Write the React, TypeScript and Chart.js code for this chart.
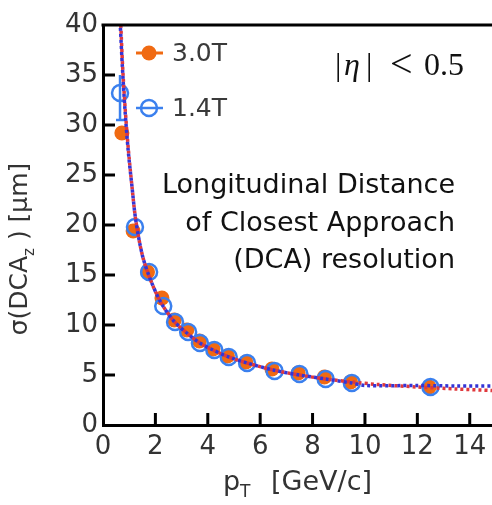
import React, { useEffect, useRef } from "react";
import { Chart, registerables } from "chart.js";
Chart.register(...registerables);

// ---- data ----
const xTickValues = [0, 2, 4, 6, 8, 10, 12, 14];
const yTickValues = [0, 5, 10, 15, 20, 25, 30, 35, 40];

const pT30 = [0.72, 1.15, 1.7, 2.25, 2.72, 3.2, 3.68, 4.2, 4.75, 5.45, 6.45, 7.45, 8.45, 9.45, 12.45];
const sigma30 = [29.2, 19.4, 15.3, 12.7, 10.5, 9.5, 8.4, 7.6, 6.9, 6.3, 5.6, 5.2, 4.8, 4.3, 3.8];

const pT14 = [0.65, 1.22, 1.76, 2.3, 2.75, 3.25, 3.7, 4.25, 4.8, 5.5, 6.55, 7.5, 8.5, 9.5, 12.5];
const sigma14 = [33.2, 19.8, 15.3, 11.9, 10.3, 9.3, 8.2, 7.5, 6.8, 6.2, 5.4, 5.1, 4.6, 4.2, 3.8];
const err14Lo = [30.5, null, null, null, null, null, null, null, null, null, null, null, null, null, null];
const err14Hi = [35.0, null, null, null, null, null, null, null, null, null, null, null, null, null, null];

const fitRedX = [0.68, 0.75, 0.85, 0.97, 1.1, 1.25, 1.5, 1.8, 2.2, 2.7, 3.2, 3.7, 4.2, 4.8, 5.5, 6.5, 7.5, 8.5, 9.5, 10.5, 12, 13.5, 14.85];
const fitRedY = [40, 35.8, 31.5, 27.5, 24, 20.5, 17, 14.6, 12.3, 10.4, 9.2, 8.2, 7.5, 6.8, 6.2, 5.5, 5.0, 4.6, 4.3, 4.05, 3.8, 3.6, 3.45];
const fitBlueX = [0.66, 0.74, 0.84, 0.96, 1.1, 1.25, 1.5, 1.8, 2.2, 2.7, 3.2, 3.7, 4.2, 4.8, 5.5, 6.5, 7.5, 8.5, 9.5, 10, 12, 13.5, 14.85];
const fitBlueY = [40, 35.8, 31.5, 27.5, 24, 20.5, 17, 14.6, 12.3, 10.4, 9.2, 8.2, 7.5, 6.8, 6.2, 5.5, 5.0, 4.6, 4.2, 3.95, 3.95, 3.9, 3.9];

const legendLabels = ["3.0T", "1.4T"];
const annotationLines = ["Longitudinal Distance", "of Closest Approach", "(DCA) resolution"];

const ORANGE = "#f06a12";
const BLUE_MARK = "#3b80ee";
const RED_FIT = "#e0383c";
const BLUE_FIT = "#3434d6";
const FONT = "'DejaVu Sans', sans-serif";

const toPts = (xs: number[], ys: number[]) => xs.map((x, i) => ({ x, y: ys[i] }));

const decorPlugin = {
  id: "decor",
  beforeDatasetsDraw(chart: any) {
    const { ctx } = chart;
    const xs = chart.scales.x;
    const ys = chart.scales.y;
    ctx.save();
    ctx.strokeStyle = BLUE_MARK;
    ctx.lineWidth = 2.5;
    pT14.forEach((x, i) => {
      const lo = err14Lo[i];
      const hi = err14Hi[i];
      if (lo == null || hi == null) return;
      const px = xs.getPixelForValue(x);
      ctx.beginPath();
      ctx.moveTo(px, ys.getPixelForValue(lo));
      ctx.lineTo(px, ys.getPixelForValue(hi));
      ctx.stroke();
      ctx.beginPath();
      ctx.moveTo(px - 4, ys.getPixelForValue(lo));
      ctx.lineTo(px + 4, ys.getPixelForValue(lo));
      ctx.stroke();
    });
    ctx.restore();
  },
  afterDraw(chart: any) {
    const { ctx, chartArea } = chart;
    const xs = chart.scales.x;
    const ys = chart.scales.y;
    ctx.save();
    // top frame line
    ctx.strokeStyle = "#000";
    ctx.lineWidth = 3;
    ctx.beginPath();
    ctx.moveTo(chartArea.left - 1.5, chartArea.top);
    ctx.lineTo(chartArea.right, chartArea.top);
    ctx.stroke();
    // inward ticks
    xTickValues.forEach((v) => {
      if (v === 0) return;
      const px = xs.getPixelForValue(v);
      ctx.beginPath();
      ctx.moveTo(px, chartArea.bottom);
      ctx.lineTo(px, chartArea.bottom - 12);
      ctx.stroke();
    });
    yTickValues.forEach((v) => {
      if (v === 0 || v === 40) return;
      const py = ys.getPixelForValue(v);
      ctx.beginPath();
      ctx.moveTo(chartArea.left, py);
      ctx.lineTo(chartArea.left + 12, py);
      ctx.stroke();
    });

    // legend
    const legendY = [53, 108];
    const mx = 149;
    ctx.strokeStyle = ORANGE;
    ctx.lineWidth = 3;
    ctx.beginPath();
    ctx.moveTo(mx - 13, legendY[0]);
    ctx.lineTo(mx + 14, legendY[0]);
    ctx.stroke();
    ctx.fillStyle = ORANGE;
    ctx.beginPath();
    ctx.arc(mx, legendY[0], 7.5, 0, Math.PI * 2);
    ctx.fill();
    ctx.strokeStyle = BLUE_MARK;
    ctx.lineWidth = 2.5;
    ctx.beginPath();
    ctx.moveTo(mx - 13, legendY[1]);
    ctx.lineTo(mx + 14, legendY[1]);
    ctx.stroke();
    ctx.beginPath();
    ctx.arc(mx, legendY[1], 8, 0, Math.PI * 2);
    ctx.stroke();
    ctx.fillStyle = "#3a3a3a";
    ctx.font = `25px ${FONT}`;
    ctx.textAlign = "left";
    ctx.textBaseline = "middle";
    legendLabels.forEach((t, i) => ctx.fillText(t, 172, legendY[i] + 1));

    // annotation text
    ctx.fillStyle = "#111";
    ctx.font = `27px ${FONT}`;
    ctx.textAlign = "right";
    ctx.textBaseline = "alphabetic";
    const baselines = [193, 231, 268];
    annotationLines.forEach((t, i) => ctx.fillText(t, 455, baselines[i]));

    // |eta| < 0.5
    ctx.textAlign = "left";
    ctx.font = `32px 'Liberation Serif', serif`;
    ctx.fillText("|", 335, 75);
    ctx.fillText("0.5", 424, 75);
    ctx.fillText("|", 366, 75);
    ctx.font = `40px 'Liberation Serif', serif`;
    ctx.fillText("<", 390, 77);
    ctx.font = `italic 32px 'Liberation Serif', serif`;
    ctx.fillText("\u03b7", 344, 75);

    // x title: p_T [GeV/c]
    ctx.fillStyle = "#333";
    const mainF = `27px ${FONT}`;
    const subF = `17px ${FONT}`;
    ctx.font = mainF;
    const wp = ctx.measureText("p").width;
    const wr = ctx.measureText(" [GeV/c]").width;
    ctx.font = subF;
    const wT = ctx.measureText("T").width;
    const gap = 12;
    const total = wp + wT + gap + wr;
    let sx = (chartArea.left + chartArea.right) / 2 - total / 2;
    const by = 490;
    ctx.font = mainF;
    ctx.fillText("p", sx, by);
    sx += wp;
    ctx.font = subF;
    ctx.fillText("T", sx, by + 7);
    sx += wT + gap;
    ctx.font = mainF;
    ctx.fillText(" [GeV/c]", sx, by);

    // y title: σ(DCA_z ) [μm]
    ctx.save();
    ctx.translate(27, 249);
    ctx.rotate(-Math.PI / 2);
    const yMain = `25px ${FONT}`;
    const ySub = `15px ${FONT}`;
    const a = "\u03c3(DCA";
    const b = "z";
    const c = " ) [\u03bcm]";
    ctx.font = yMain;
    const wa = ctx.measureText(a).width;
    const wc = ctx.measureText(c).width;
    ctx.font = ySub;
    const wb = ctx.measureText(b).width;
    const tot = wa + wb + wc;
    let tx = -tot / 2;
    ctx.font = yMain;
    ctx.fillText(a, tx, 0);
    tx += wa;
    ctx.font = ySub;
    ctx.fillText(b, tx, 7);
    tx += wb;
    ctx.font = yMain;
    ctx.fillText(c, tx, 0);
    ctx.restore();

    ctx.restore();
  },
};

export default function App() {
  const ref = useRef<HTMLCanvasElement | null>(null);
  useEffect(() => {
    if (!ref.current) return;
    const chart = new Chart(ref.current, {
      type: "scatter",
      data: {
        datasets: [
          {
            label: "fit 1.4T",
            type: "line",
            data: toPts(fitBlueX, fitBlueY),
            borderColor: BLUE_FIT,
            borderWidth: 3.5,
            borderDash: [3, 3],
            borderDashOffset: 3,
            pointRadius: 0,
            tension: 0.3,
            fill: false,
            order: 1,
          } as any,
          {
            label: "fit 3.0T",
            type: "line",
            data: toPts(fitRedX, fitRedY),
            borderColor: RED_FIT,
            borderWidth: 3.5,
            borderDash: [3, 3],
            pointRadius: 0,
            tension: 0.3,
            fill: false,
            order: 2,
          } as any,
          {
            label: "1.4T",
            data: toPts(pT14, sigma14),
            pointRadius: 8,
            pointBorderWidth: 2.5,
            pointBorderColor: BLUE_MARK,
            pointBackgroundColor: "rgba(0,0,0,0)",
            borderColor: BLUE_MARK,
            backgroundColor: "rgba(0,0,0,0)",
            order: 3,
          },
          {
            label: "3.0T",
            data: toPts(pT30, sigma30),
            pointRadius: 7.5,
            pointBorderWidth: 0,
            pointBackgroundColor: ORANGE,
            backgroundColor: ORANGE,
            borderColor: ORANGE,
            order: 4,
          },
        ],
      },
      options: {
        animation: false,
        responsive: false,
        devicePixelRatio: 1,
        layout: { autoPadding: false, padding: { top: 25, left: 0, right: 0, bottom: 0 } },
        plugins: { legend: { display: false }, tooltip: { enabled: false } },
        scales: {
          x: {
            type: "linear",
            min: 0,
            max: 14.85,
            afterBuildTicks: (s: any) => {
              s.ticks = xTickValues.map((v) => ({ value: v }));
            },
            afterFit: (s: any) => {
              s.height = 80;
              s.paddingLeft = 0;
              s.paddingRight = 0;
            },
            grid: { display: false, drawTicks: false },
            border: { display: true, color: "#000", width: 3 },
            ticks: {
              padding: 7,
              color: "#333",
              font: { family: FONT, size: 26 },
              maxRotation: 0,
              autoSkip: false,
            },
          },
          y: {
            type: "linear",
            min: 0,
            max: 40,
            afterBuildTicks: (s: any) => {
              s.ticks = yTickValues.map((v) => ({ value: v }));
            },
            afterFit: (s: any) => {
              s.width = 103;
              s.paddingTop = 0;
              s.paddingBottom = 0;
            },
            grid: { display: false, drawTicks: false },
            border: { display: true, color: "#000", width: 3 },
            ticks: {
              padding: 5,
              color: "#333",
              font: { family: FONT, size: 26 },
              autoSkip: false,
            },
          },
        },
      },
      plugins: [decorPlugin],
    } as any);
    return () => chart.destroy();
  }, []);
  return (
    <div style={{ position: "absolute", left: 0, top: 0, width: 492, height: 505, background: "#fff" }}>
      <canvas ref={ref} width={492} height={505} style={{ display: "block" }} />
    </div>
  );
}
